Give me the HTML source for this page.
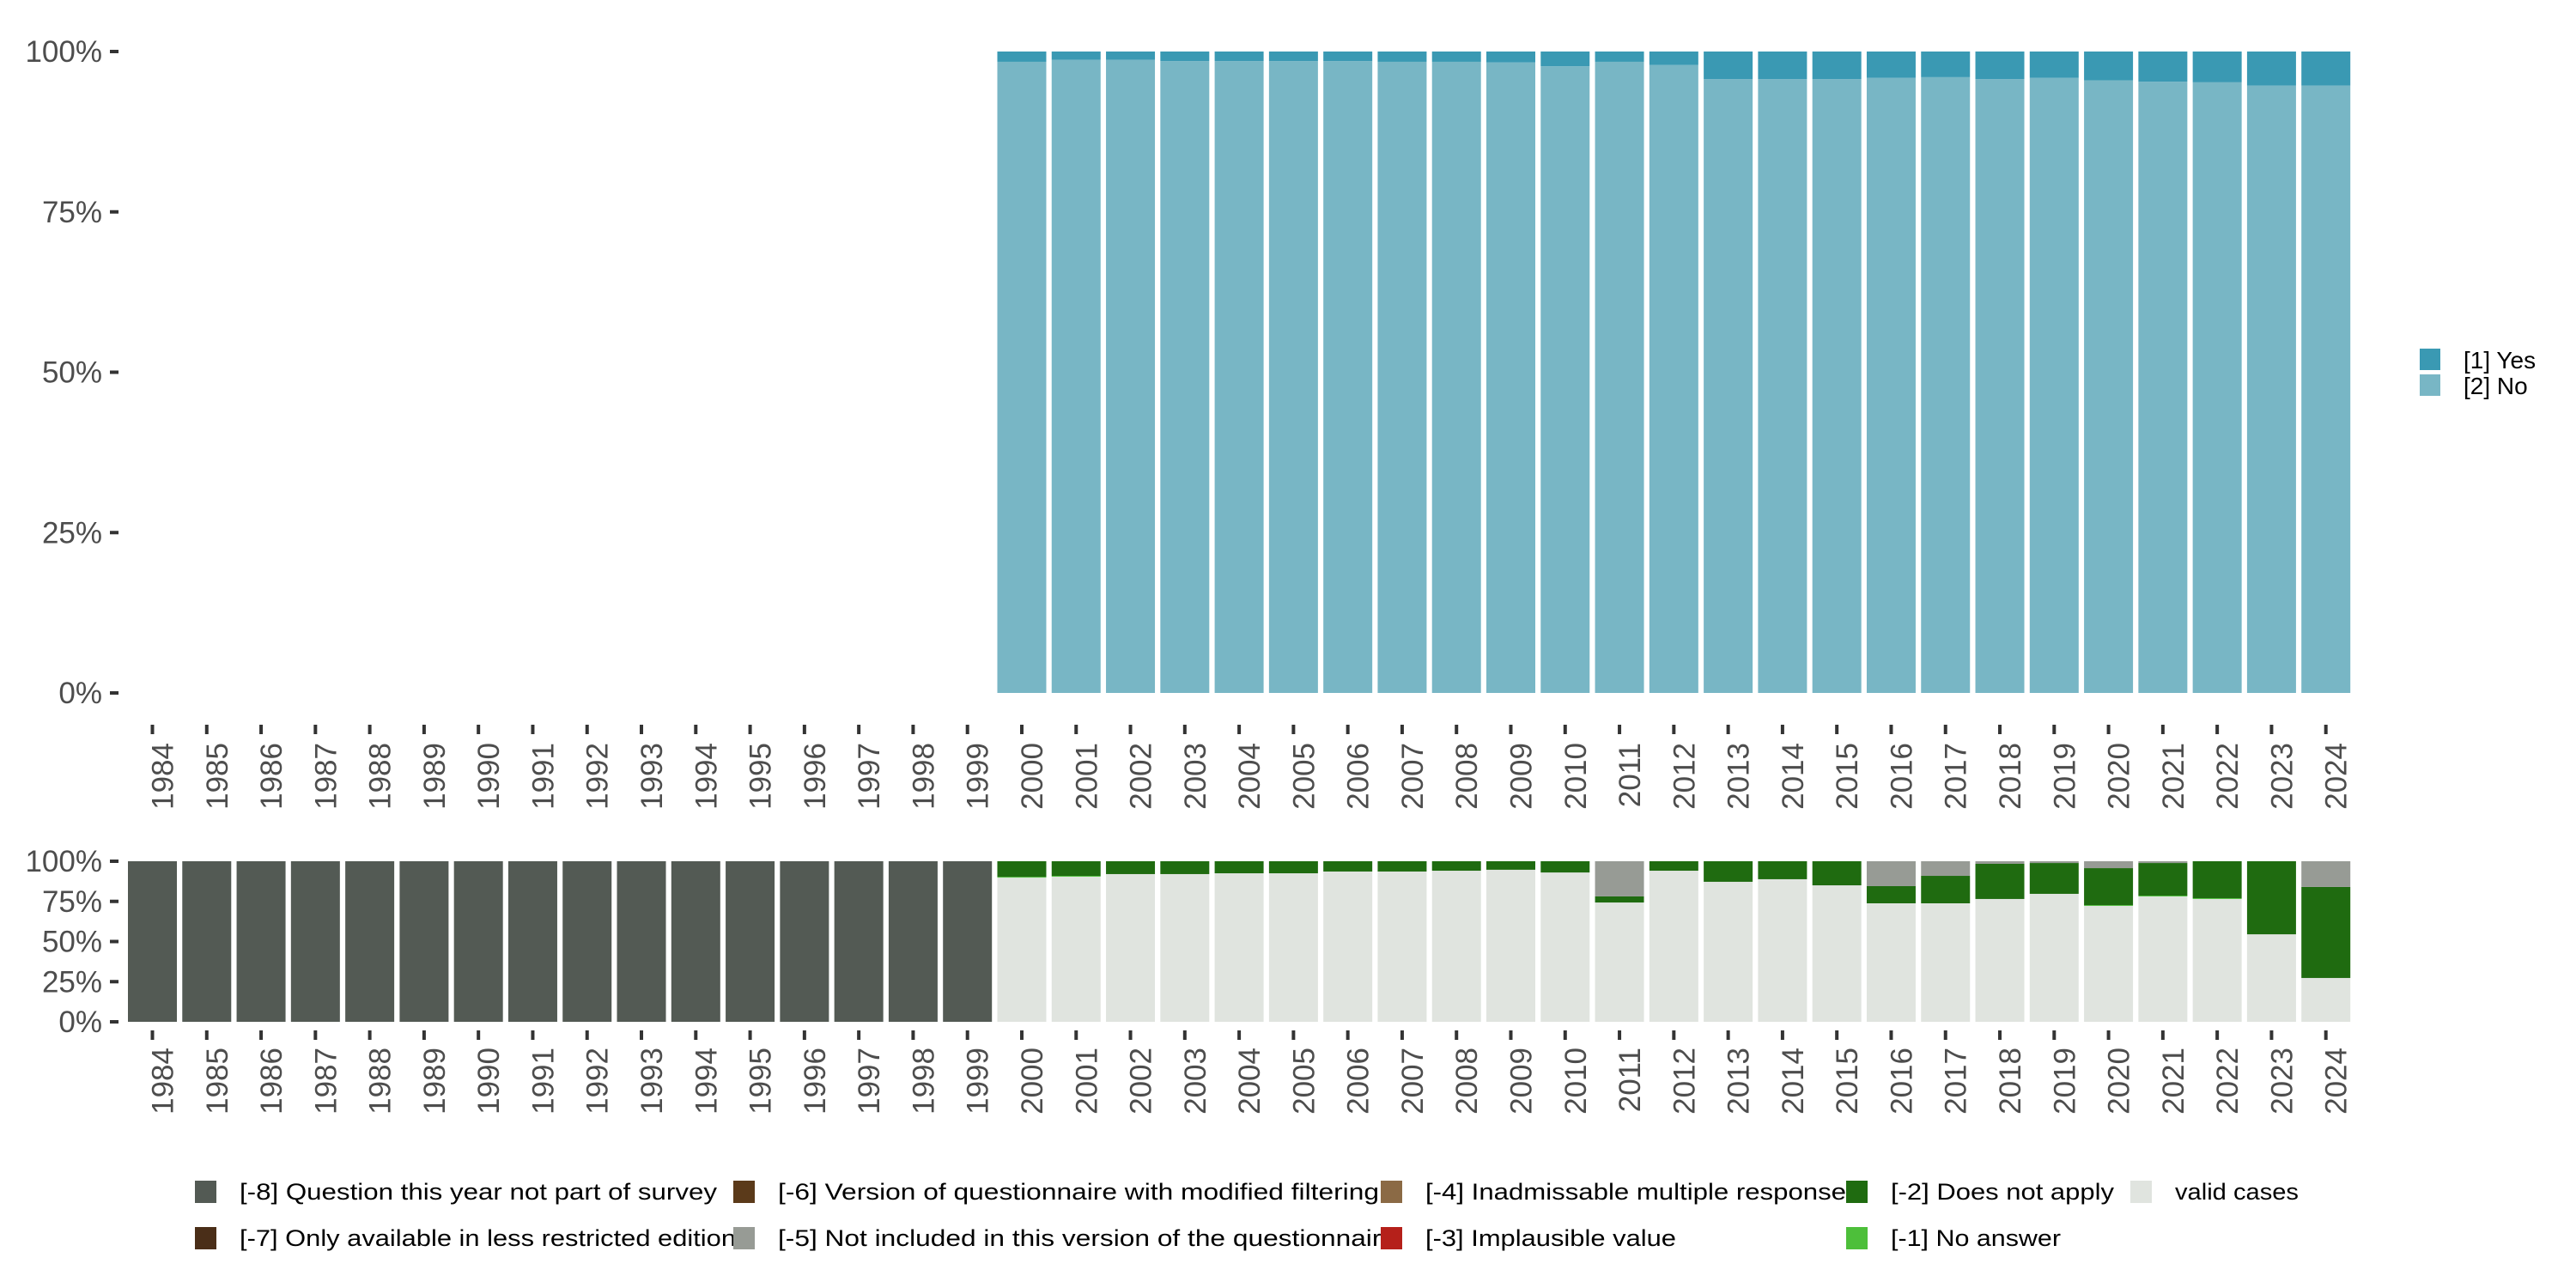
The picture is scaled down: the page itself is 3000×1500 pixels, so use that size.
<!DOCTYPE html>
<html><head><meta charset="utf-8"><style>
html,body{margin:0;padding:0;background:#fff;}
svg{display:block;font-family:"Liberation Sans",sans-serif;}
</style></head><body>
<svg id="chart" width="3000" height="1500" viewBox="0 0 3000 1500" xmlns="http://www.w3.org/2000/svg">
<g id="top"></g>
<g id="bot"></g>
<g id="legend-top"></g>
<g id="legend-bot"></g>
</svg>
<script>
const years = [];
for (let y = 1984; y <= 2024; y++) years.push(y);
const yesYears = [2000,2001,2002,2003,2004,2005,2006,2007,2008,2009,2010,2011,2012,2013,2014,2015,2016,2017,2018,2019,2020,2021,2022,2023,2024];
const yesPct = [1.6,1.3,1.3,1.5,1.5,1.5,1.5,1.6,1.6,1.7,2.3,1.6,2.1,4.3,4.3,4.3,4.1,4.0,4.3,4.1,4.5,4.7,4.8,5.3,5.3];
const validPct = [89.8,90.4,92.0,92.0,92.5,92.5,93.6,93.6,94.1,94.7,93.0,74.3,94.1,87.2,88.8,85.0,73.8,73.8,76.5,79.7,72.2,78.1,76.5,54.5,27.3];
const noAnswerPct = [0.5,0.5,0,0,0,0,0,0,0,0,0,0,0,0,0,0,0,0,0,0,0.5,0.5,0.5,0,0];
const notApplyPct = [9.7,9.1,8.0,8.0,7.5,7.5,6.4,6.4,5.9,5.3,7.0,3.8,5.9,12.8,11.2,15.0,10.7,17.1,21.9,19.2,23.0,20.3,23.0,45.5,56.7];
const notInclPct = [0,0,0,0,0,0,0,0,0,0,0,21.9,0,0,0,0,15.5,9.1,1.6,1.1,4.3,1.1,0,0,16.0];
const notPartYears = [1984,1985,1986,1987,1988,1989,1990,1991,1992,1993,1994,1995,1996,1997,1998,1999];
const yTicks = [0,25,50,75,100];
const yTickLabels = ["0%","25%","50%","75%","100%"];

const NS = "http://www.w3.org/2000/svg";
function mk(tag, attrs, parent) {
  const e = document.createElementNS(NS, tag);
  for (const k in attrs) e.setAttribute(k, attrs[k]);
  parent.appendChild(e);
  return e;
}
const X0 = 177.5, PITCH = 63.28, BW = 57;
function xc(year) { return X0 + (year - 1984) * PITCH; }

function panel(g, yTop, yBot, tickY0, labelY) {
  const ys = v => yBot - (v / 100) * (yBot - yTop);
  yTicks.forEach((t, i) => {
    const l = mk("line", {x1:128, x2:138, y1:ys(t), y2:ys(t), stroke:"#333", "stroke-width":4}, g);
    
    
    const tx = mk("text", {x:119, y:ys(t)+12, "text-anchor":"end", "font-size":35, fill:"#4d4d4d"}, g);
    tx.textContent = yTickLabels[i];
    
    
  });
  years.forEach(y => {
    const l = mk("line", {x1:xc(y), x2:xc(y), y1:tickY0, y2:tickY0+11, stroke:"#333", "stroke-width":4}, g);
    
    
    const tx = mk("text", {transform:`translate(${xc(y)+24},${labelY}) rotate(-90)`, "text-anchor":"end", "font-size":35, fill:"#4d4d4d"}, g);
    tx.textContent = y;
    
    
  });
  return ys;
}
function bar(g, year, lo, hi, ys, color, name) {
  if (hi - lo <= 0) return;
  const r = mk("rect", {x:xc(year)-BW/2, y:ys(hi), width:BW, height:ys(lo)-ys(hi), fill:color}, g);
  
  
}

const gt = document.getElementById("top");
const ysT = panel(gt, 60, 807, 844, 865);
yesYears.forEach((y, i) => {
  bar(gt, y, 0, 100 - yesPct[i], ysT, "#78b6c5", "bar-no");
  bar(gt, y, 100 - yesPct[i], 100, ysT, "#3a99b3", "bar-yes");
});

const gb = document.getElementById("bot");
const ysB = panel(gb, 1003, 1190, 1200, 1220);
notPartYears.forEach(y => bar(gb, y, 0, 100, ysB, "#535a54", "bar-not-part"));
yesYears.forEach((y, i) => {
  let c = 0;
  bar(gb, y, c, c + validPct[i], ysB, "#e0e4df", "bar-valid"); c += validPct[i];
  bar(gb, y, c, c + noAnswerPct[i], ysB, "#4dbf3a", "bar-no-answer"); c += noAnswerPct[i];
  bar(gb, y, c, c + notApplyPct[i], ysB, "#1f6b10", "bar-not-apply"); c += notApplyPct[i];
  bar(gb, y, c, Math.min(100, c + notInclPct[i]), ysB, "#979b95", "bar-not-included");
});

const lt = document.getElementById("legend-top");
[["[1] Yes","#3a99b3"],["[2] No","#78b6c5"]].forEach((d, i) => {
  const r = mk("rect", {x:2818, y:406+i*30, width:24, height:25, fill:d[1]}, lt);
  
  
  const t = mk("text", {x:2869, y:429+i*30, "font-size":28, fill:"#000"}, lt);
  t.textContent = d[0];
  
  
});

const lb = document.getElementById("legend-bot");
const items = [
  ["[-8] Question this year not part of survey","#535a54",227,1388,556],
  ["[-7] Only available in less restricted edition","#4a2e18",227,1442,578],
  ["[-6] Version of questionnaire with modified filtering","#5b3a1a",854,1388,700],
  ["[-5] Not included in this version of the questionnaire","#979b95",854,1442,720],
  ["[-4] Inadmissable multiple response","#8b6a45",1608,1388,490],
  ["[-3] Implausible value","#b5201a",1608,1442,292],
  ["[-2] Does not apply","#1f6b10",2150,1388,260],
  ["[-1] No answer","#4dbf3a",2150,1442,198],
  ["valid cases","#e0e4df",2481,1388,144]
];
items.forEach(d => {
  const r = mk("rect", {x:d[2], y:d[3]-13, width:25, height:26, fill:d[1]}, lb);
  
  
  const t = mk("text", {x:d[2]+52, y:d[3]+9, "font-size":27, fill:"#000", textLength:d[4], lengthAdjust:"spacingAndGlyphs"}, lb);
  t.textContent = d[0];
  
  
});
</script>
</body></html>
